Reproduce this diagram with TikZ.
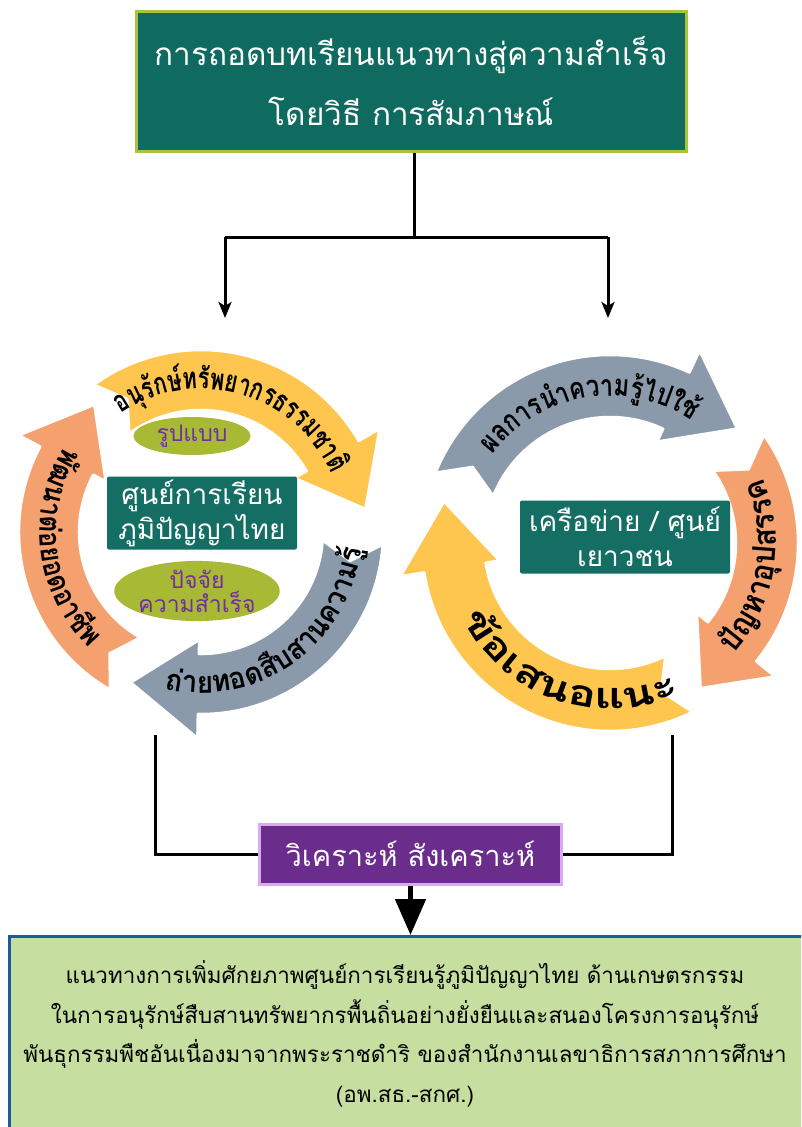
\documentclass[tikz,border=0pt]{standalone}
\usepackage{fontspec}
\setmainfont{Liberation Sans}
\newfontfamily\thai[Script=Thai]{Loma}
\usetikzlibrary{calc,arrows.meta,shapes.geometric}

\definecolor{teal1}{HTML}{0F6B60}
\definecolor{teal2}{HTML}{146E63}
\definecolor{lime1}{HTML}{A9C43C}
\definecolor{yel}{HTML}{FEC64F}
\definecolor{gry}{HTML}{8A9AAA}
\definecolor{org}{HTML}{F5A16F}
\definecolor{olive1}{HTML}{A8B935}
\definecolor{purp}{HTML}{7030A0}
\definecolor{purpbox}{HTML}{6A2D8C}
\definecolor{purpline}{HTML}{D9A9F2}
\definecolor{lgreen}{HTML}{C6DFA0}
\definecolor{dblue}{HTML}{1F5A96}

\newlength\arcw
\newdimen\arctotd
\def\arcsize{26}
\newcommand\arcfont{\thai\bfseries\fontsize{\arcsize}{\arcsize}\selectfont}
\newcommand\arcmeasure[1]{%
  \pgfinterruptpicture
    \setbox0=\hbox{\arcfont #1}%
    \global\arcw=\wd0
  \endpgfinterruptpicture
  \ifdim\arcw<1pt \global\arcw=0.6\dimexpr\arcsize pt\relax\fi}
% #1 cx, #2 cy, #3 baseline radius, #4 start angle, #5 end angle,
% #6 mode (1 = clockwise, tops outward; -1 = counterclockwise, tops inward),
% #7 font size, #8 clusters
\newcommand\arctext[8]{%
  \def\arcsize{#7}%
  \global\arctotd=0pt
  \foreach \cl in {#8}{%
    \arcmeasure{\cl}%
    \global\advance\arctotd by \arcw
  }%
  \pgfmathsetmacro\arck{abs((#5)-(#4))*pi/180*(#3)/\arctotd}%
  \xdef\arcacc{0}%
  \foreach \cl in {#8}{%
    \arcmeasure{\cl}%
    \pgfmathsetmacro\arcang{(#4)-(#6)*(\arcacc+\arcw/2)*\arck/(#3)*180/pi}%
    \node[arcnode, rotate=\arcang-90*(#6)] at ($(#1,#2)+(\arcang:#3)$) {\scalebox{\arck}[1]{\arcfont\cl}};
    \pgfmathsetmacro\arctmp{\arcacc+\arcw}%
    \xdef\arcacc{\arctmp}%
  }%
}
% #1 cx, #2 cy, #3 tail angle, #4 head base angle, #5 tip angle, #6 colour, #7 outer r, #8 inner r
\newcommand\cycarrow[8]{%
  \pgfmathsetmacro\cyho{#7+24}%
  \pgfmathsetmacro\cyhi{#8-14}%
  \pgfmathsetmacro\cytp{(#7+#8)/2+14}%
  \pgfmathsetmacro\cymid{(#7+#8)/2}%
  \begin{scope}[shift={(#1,#2)}]
    \filldraw[fill=#6, draw=white, line width=2.5pt, line join=round]
      (#3:#7) arc[start angle=#3, end angle=#4, radius=#7pt]
      -- (#4:\cyho) -- (#5:\cytp) -- (#4:\cyhi) -- (#4:#8)
      arc[start angle=#4, end angle=#3, radius=#8pt]
      -- ({#3-7}:\cymid) -- cycle;
  \end{scope}}

\tikzset{
  arcnode/.style={inner sep=0pt, anchor=base, text=black},
  conn/.style={line width=3pt, black},
  tip/.style={-{Stealth[length=16pt,width=13pt,inset=4pt]}},
  topbox/.style={fill=teal1, draw=lime1, line width=3.5pt, minimum width=550, minimum height=140,
    text=white, align=center, font=\thai\fontsize{31.5}{60}\selectfont, inner sep=0pt},
  ctrbox/.style={fill=teal2, rounded corners=2pt, minimum width=190, minimum height=73,
    text=white, align=center, font=\thai\fontsize{28}{35}\selectfont, inner sep=0pt},
  ell/.style={ellipse, fill=olive1, text=purp, align=center, inner sep=0pt},
  anabox/.style={fill=purpbox, draw=purpline, line width=3pt, minimum width=302, minimum height=60,
    text=white, font=\thai\fontsize{29}{29}\selectfont, inner sep=0pt},
  resbox/.style={fill=lgreen, draw=dblue, line width=3pt, inner sep=0pt},
  restext/.style={text=black, align=center, font=\thai\fontsize{22.4}{39.5}\selectfont, inner sep=0pt},
}

\begin{document}
\begin{tikzpicture}[x=1pt,y=1pt]
\useasboundingbox (0,0) rectangle (801,-1127);
\clip (0,0) rectangle (801,-1127);
\fill[white] (0,0) rectangle (801,-1127);

% title and split
\node[topbox] (top) at (411.5,-81.5) {การถอดบทเรียนแนวทางสู่ความสำเร็จ\\โดยวิธี การสัมภาษณ์};
\coordinate (split) at (414,-237);
\coordinate (lA) at (225,-237);
\coordinate (rA) at (608,-237);
\coordinate (lEnd) at (225,-318);
\coordinate (rEnd) at (608,-318);
\draw[conn] (top.south -| split) -- (split);
\draw[conn] (lA) -- (rA);
\draw[conn, tip] (lA) -- (lEnd);
\draw[conn, tip] (rA) -- (rEnd);

% left cycle
\cycarrow{201}{-532}{126}{30}{8}{yel}{182}{122}
\cycarrow{201}{-532}{356}{269}{245}{gry}{182}{122}
\cycarrow{201}{-532}{240}{152}{130}{org}{182}{122}
% right cycle
\cycarrow{610}{-543}{158}{65}{42}{gry}{188}{126}
\cycarrow{610}{-543}{35}{-39}{-58}{org}{188}{126}
\cycarrow{610}{-543}{296}{189}{166}{yel}{188}{126}

% arc labels
\arctext{201}{-532}{143}{124}{24}{1}{30}{อ,นุ,รั,ก,ษ์,ท,รั,พ,ย,า,ก,ร,ธ,ร,ร,ม,ช,า,ติ}
\arctext{201}{-532}{161}{-103}{-6}{-1}{30}{ถ่,า,ย,ท,อ,ด,สื,บ,ส,า,น,ค,ว,า,ม,รู้}
\arctext{201}{-532}{161}{148}{226}{-1}{30}{พั,ฒ,น,า,ต่,อ,ย,อ,ด,อ,า,ชี,พ}
\arctext{610}{-543}{147}{143}{56}{1}{30}{ผ,ล,ก,า,ร,นำ,ค,ว,า,ม,รู้,ไ,ป,ใ,ช้}
\arctext{610}{-543}{166}{-42}{23}{-1}{32}{ปั,ญ,ห,า,อุ,ป,ส,ร,ร,ค}
\arctext{610}{-543}{166}{207}{295}{-1}{36}{ข้,อ,เ,ส,น,อ,แ,น,ะ}

% centre items
\node[ell, minimum width=117, minimum height=38, font=\thai\fontsize{23}{24}\selectfont] (lform) at (192,-436) {รูปแบบ};
\node[ctrbox] (lctr) at (202,-513) {ศูนย์การเรียน\\ภูมิปัญญาไทย};
\node[ell, minimum width=127, minimum height=57, font=\thai\fontsize{23}{24}\selectfont] (lfac) at (197,-591) {ปัจจัย\\ความสำเร็จ};
\node[ctrbox, minimum width=210] (rctr) at (625,-537) {เครือข่าย / ศูนย์\\เยาวชน};

% analysis
\node[anabox] (ana) at (410.5,-854) {วิเคราะห์ สังเคราะห์};
\coordinate (lb) at (155,-735);
\coordinate (rb) at (672,-735);
\draw[conn] (lb) |- (ana.west);
\draw[conn] (rb) |- (ana.east);

% result
\node[resbox, anchor=north west, minimum width=808, minimum height=220] (res) at (8,-935) {};
\draw[line width=5pt, -{Triangle[length=36pt,width=30pt]}] (ana.south) -- (ana.south |- res.north);
\node[restext] (rest) at (405,-1034) {แนวทางการเพิ่มศักยภาพศูนย์การเรียนรู้ภูมิปัญญาไทย ด้านเกษตรกรรม\\ในการอนุรักษ์สืบสานทรัพยากรพื้นถิ่นอย่างยั่งยืนและสนองโครงการอนุรักษ์\\พันธุกรรมพืชอันเนื่องมาจากพระราชดำริ ของสำนักงานเลขาธิการสภาการศึกษา\\(อพ.สธ.-สกศ.)};
\end{tikzpicture}
\end{document}
